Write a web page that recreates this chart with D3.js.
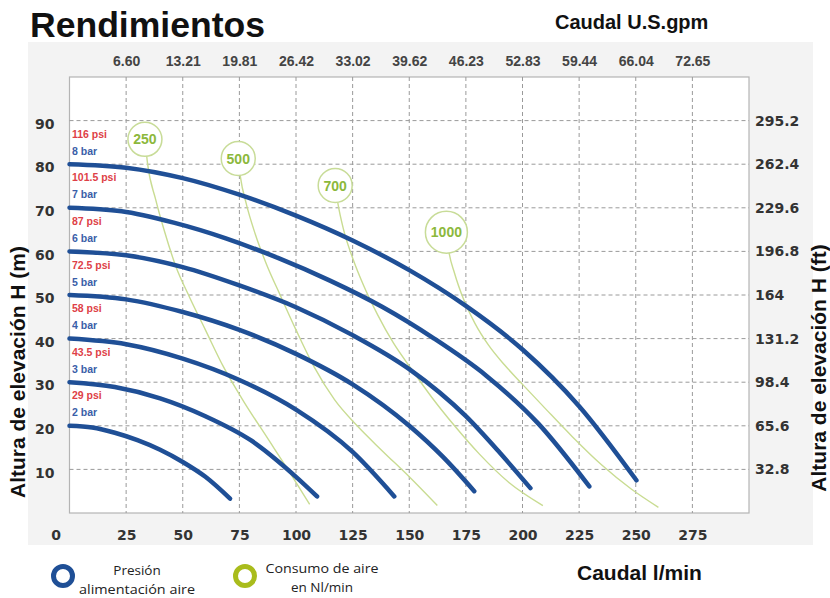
<!DOCTYPE html>
<html><head><meta charset="utf-8">
<script src="https://cdn.jsdelivr.net/npm/d3@7"></script>
<style>body{margin:0;background:#fff;} svg{display:block;}</style>
</head><body><svg id="c" width="830" height="598"></svg>
<script>
// ---- data ----
const flowTicks = [0,25,50,75,100,125,150,175,200,225,250,275];
const gpmTicks = [25,50,75,100,125,150,175,200,225,250,275];
const gpmLabels = ["6.60","13.21","19.81","26.42","33.02","39.62","46.23","52.83","59.44","66.04","72.65"];
const headTicks = [10,20,30,40,50,60,70,80,90];
const ftLabels = ["32.8","65.6","98.4","131.2","164","196.8","229.6","262.4","295.2"];
const barLabels = ["2 bar","3 bar","4 bar","5 bar","6 bar","7 bar","8 bar"];
const psiLabels = ["29 psi","43.5 psi","58 psi","72.5 psi","87 psi","101.5 psi","116 psi"];

// pump curves: [flow l/min, head m]
const curve2bar = [[0,20],[10,19.6],[20,18.4],[30,16.7],[40,14.5],[50,11.7],[60,8.3],[70.9,3.3]];
const curve3bar = [[0,30],[20,28.9],[40,26.3],[60,22.2],[80,16.7],[100,8.3],[109.3,3.8]];
const curve4bar = [[0,40],[25,38.7],[50,35.4],[75,30.5],[100,23.7],[125,14],[143.4,3.8]];
const curve5bar = [[0,50],[25,49],[50,46.1],[75,42],[100,36.5],[125,29.5],[150,20],[165,12.8],[178.7,5]];
const curve6bar = [[0,60],[25,59.1],[50,56.4],[75,52.2],[100,47.2],[125,40.8],[150,33],[175,22.2],[190,13.8],[203.5,5.7]];
const curve7bar = [[0,70],[23,69.2],[46,66.6],[69,63],[92,58.5],[115,53.3],[138,47.3],[161,40],[184,31.5],[207,20.5],[229.5,6.1]];
const curve8bar = [[0,80],[25,79.2],[50,76.8],[75,73],[100,68.2],[125,62.5],[150,55.7],[175,47.5],[200,37.5],[225,24.5],[250.3,7.5]];

// air consumption (Nl/min) lines, first point = label bubble
const airLabels = ["250","500","700","1000"];
const air250 = [[33.3,85.7],[34.5,80],[38,72],[42,64.5],[47,56.5],[53,49.5],[60,42],[68,33.5],[77,25.5],[87,17.5],[97,9.5],[106,2]];
const air500 = [[74.5,81.3],[75.5,77],[78,71],[82,64],[87,57],[93,50],[100,42],[108,33.5],[117,26],[127,20],[138,14.3],[150,8.3],[162.4,1.7]];
const air700 = [[117.3,75.1],[118.5,71],[121,65],[125,58.5],[130,52],[136,45.5],[143,39],[151,33],[160,26.5],[170,20],[181,13.5],[194,7],[209,1.7]];
const air1000 = [[166.4,64.4],[167.5,60],[170,55],[174,49],[179,43.5],[185,38.5],[192,34],[200,29.5],[210,24],[222,17.5],[235,11],[248,5.5],[260,1.3]];

const pressureCurves = [curve2bar,curve3bar,curve4bar,curve5bar,curve6bar,curve7bar,curve8bar];
const airCurves = [air250,air500,air700,air1000];

// ---- drawing ----
const svg = d3.select("#c");
const x = d3.scaleLinear().domain([0,300]).range([69.5,749]);
const y = d3.scaleLinear().domain([0,100]).range([513,77]);
const BLUE = "#1f4f96", GREEN_TXT = "#8cb83c", GREEN_LINE = "#c9dc92", GREEN_RING = "#a9bc1c";
const tickFont = "'DejaVu Sans', sans-serif";

svg.append("rect").attr("x",28).attr("y",42).attr("width",785).attr("height",503).attr("fill","#f3f3f3");
svg.append("rect").attr("x",x(0)).attr("y",y(100)).attr("width",x(300)-x(0)).attr("height",y(0)-y(100))
  .attr("fill","#fff").attr("stroke","#b4b4b4").attr("stroke-width",1.2);

// grid
const grid = svg.append("g").attr("stroke","#9a9a9a").attr("stroke-width",1).attr("stroke-dasharray","4,3");
grid.selectAll(".gx").data(gpmTicks).join("line")
  .attr("x1",d=>x(d)).attr("x2",d=>x(d)).attr("y1",y(100)).attr("y2",y(0));
grid.selectAll(".gy").data(headTicks).join("line")
  .attr("x1",x(0)).attr("x2",x(300)).attr("y1",d=>y(d)).attr("y2",d=>y(d));

function styleAxis(g, font, size, weight, fill){
  g.select(".domain").remove();
  g.selectAll("text").attr("font-family",font).attr("font-size",size).attr("font-weight",weight).attr("fill",fill);
}
// bottom axis
const gb = svg.append("g").attr("transform",`translate(0,${y(0)})`)
  .call(d3.axisBottom(x).tickValues(flowTicks).tickSize(0).tickPadding(17).tickFormat(d3.format("d")));
styleAxis(gb, tickFont, 14, "bold", "#333");
gb.selectAll(".tick").filter(d=>d===0).select("text").attr("dx",-14);
// top axis
const gt = svg.append("g").attr("transform",`translate(0,${y(100)})`)
  .call(d3.axisTop(x).tickValues(gpmTicks).tickSize(0).tickPadding(11).tickFormat((d,i)=>gpmLabels[i]));
styleAxis(gt, "'Liberation Sans', Arial, sans-serif", 14, "bold", "#444");
// left axis
const gl = svg.append("g").attr("transform",`translate(${x(0)},0)`)
  .call(d3.axisLeft(y).tickValues(headTicks).tickSize(0).tickPadding(15));
styleAxis(gl, tickFont, 14, "bold", "#333");
gl.selectAll("text").attr("dy","0.55em");
// right axis
const gr = svg.append("g").attr("transform",`translate(${x(300)},0)`)
  .call(d3.axisRight(y).tickValues(headTicks).tickSize(0).tickPadding(6).tickFormat((d,i)=>ftLabels[i]));
styleAxis(gr, tickFont, 14, "bold", "#333");

// air consumption lines
const line = d3.line().x(d=>x(d[0])).y(d=>y(d[1])).curve(d3.curveMonotoneX);
svg.append("g").selectAll("path").data(airCurves).join("path")
  .attr("d",line).attr("fill","none").attr("stroke",GREEN_LINE).attr("stroke-width",1.4);

// pressure curves
svg.append("g").selectAll("path").data(pressureCurves).join("path")
  .attr("d",line).attr("fill","none").attr("stroke",BLUE).attr("stroke-width",4.5).attr("stroke-linecap","round");

// bubbles
const bub = svg.append("g").selectAll("g").data(airCurves).join("g")
  .attr("transform",d=>`translate(${x(d[0][0])},${y(d[0][1])})`);
bub.append("circle").attr("r",(d,i)=>airLabels[i].length>3?21:17)
  .attr("fill","#fff").attr("stroke","#c8dc98").attr("stroke-width",1.5);
bub.append("text").text((d,i)=>airLabels[i]).attr("text-anchor","middle").attr("dy","0.36em")
  .attr("font-family","'Liberation Sans', Arial, sans-serif").attr("font-weight","bold").attr("font-size",14)
  .attr("fill",GREEN_TXT);

// pressure labels
const lab = svg.append("g").attr("font-family","'Liberation Sans', Arial, sans-serif").attr("font-size",10.5).attr("font-weight","bold");
lab.selectAll(".psi").data(pressureCurves).join("text")
  .attr("x",72).attr("y",d=>y(d[0][1])-30).attr("dy","0.35em").attr("fill","#de3f47")
  .text((d,i)=>psiLabels[i]);
lab.selectAll(".bar").data(pressureCurves).join("text")
  .attr("x",72).attr("y",d=>y(d[0][1])-13).attr("dy","0.35em").attr("fill","#3a5ea8")
  .text((d,i)=>barLabels[i]);

// titles
const bold = "'Liberation Sans', Arial, sans-serif";
svg.append("text").attr("x",30).attr("y",37).text("Rendimientos")
  .attr("font-family",bold).attr("font-weight","bold").attr("font-size",35)
  .attr("textLength",235).attr("lengthAdjust","spacingAndGlyphs").attr("fill","#111");
svg.append("text").attr("x",555).attr("y",29).text("Caudal U.S.gpm")
  .attr("font-family",bold).attr("font-weight","bold").attr("font-size",20).attr("fill","#111");
svg.append("text").attr("x",577).attr("y",580).text("Caudal l/min")
  .attr("font-family",bold).attr("font-weight","bold").attr("font-size",21).attr("fill","#111");
svg.append("text").attr("transform","translate(25,372) rotate(-90)").attr("text-anchor","middle")
  .text("Altura de elevación H (m)")
  .attr("font-family",bold).attr("font-weight","bold").attr("font-size",21).attr("fill","#111");
svg.append("text").attr("transform","translate(826,368) rotate(-90)").attr("text-anchor","middle")
  .text("Altura de elevación H (ft)")
  .attr("font-family",bold).attr("font-weight","bold").attr("font-size",21).attr("fill","#111");

// legend
const leg = svg.append("g").attr("font-family","'Open Sans', sans-serif").attr("font-size",13.5).attr("fill","#222");
leg.append("circle").attr("cx",63).attr("cy",576).attr("r",9.5).attr("fill","#fff").attr("stroke",BLUE).attr("stroke-width",5);
leg.append("text").attr("x",137).attr("y",575).attr("text-anchor","middle").text("Presión");
leg.append("text").attr("x",137).attr("y",594).attr("text-anchor","middle").attr("textLength",116).attr("lengthAdjust","spacingAndGlyphs").text("alimentación aire");
leg.append("circle").attr("cx",245).attr("cy",576).attr("r",9.5).attr("fill","#fff").attr("stroke",GREEN_RING).attr("stroke-width",5);
leg.append("text").attr("x",322).attr("y",573).attr("text-anchor","middle").attr("textLength",113).attr("lengthAdjust","spacingAndGlyphs").text("Consumo de aire");
leg.append("text").attr("x",322).attr("y",592).attr("text-anchor","middle").text("en Nl/min");
</script></body></html>
